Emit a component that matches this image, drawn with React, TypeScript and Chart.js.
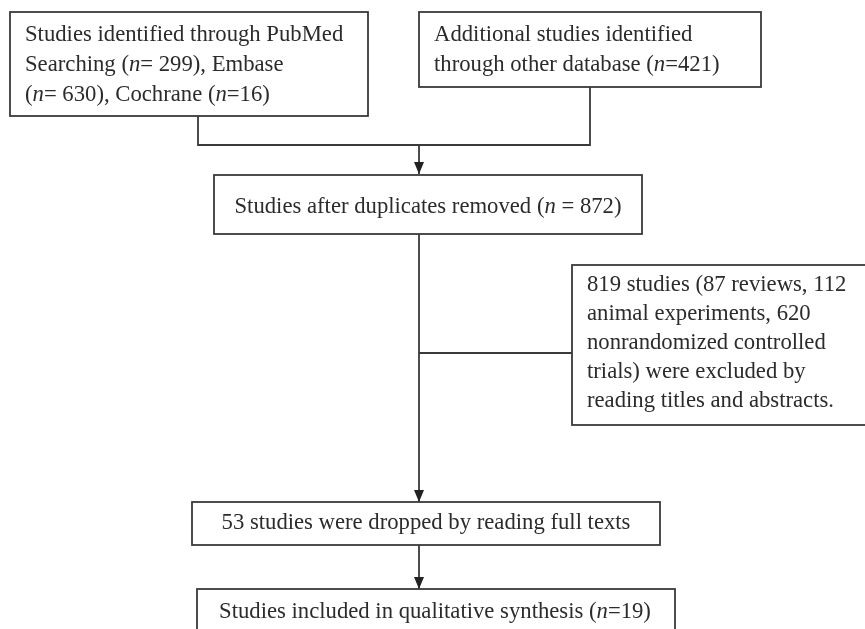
import React, { useEffect, useRef } from "react";
import { Chart, registerables } from "chart.js";

Chart.register(...registerables);

// ---- diagram data (units = diagram coordinates) ----
const boxLeft = [10, 419, 214, 572, 192, 197];
const boxTop = [12, 12, 175, 265, 502, 589];
const boxRight = [368, 761, 642, 872, 660, 675];
const boxBottom = [116, 87, 234, 425, 545, 650];
const boxAlign = ["left", "left", "center", "left", "center", "center"];
const boxTextX = [25, 434, 428, 587, 426, 435];
const boxLineY = [
  [35, 65, 95],
  [35, 65],
  [207],
  [285, 314, 343, 372, 401],
  [523],
  [612],
];
const boxLines = [
  ["Studies identified through PubMed", "Searching (*n*= 299), Embase", "(*n*= 630), Cochrane (*n*=16)"],
  ["Additional studies identified", "through other database (*n*=421)"],
  ["Studies after duplicates removed (*n* = 872)"],
  [
    "819 studies (87 reviews, 112",
    "animal experiments, 620",
    "nonrandomized controlled",
    "trials) were excluded by",
    "reading titles and abstracts.",
  ],
  ["53 studies were dropped by reading full texts"],
  ["Studies included in qualitative synthesis (*n*=19)"],
];

const connectorPoints = [
  [{ x: 198, y: 116 }, { x: 198, y: 145 }, { x: 590, y: 145 }, { x: 590, y: 87 }],
  [{ x: 419, y: 145 }, { x: 419, y: 174 }],
  [{ x: 419, y: 234 }, { x: 419, y: 502 }],
  [{ x: 419, y: 353 }, { x: 572, y: 353 }],
  [{ x: 419, y: 545 }, { x: 419, y: 589 }],
];
const connectorArrow = [false, true, true, false, true];

const FONT_SIZE = 22.7;
const FONT_FAMILY = '"Liberation Serif", "Times New Roman", serif';
const LINE_COLOR = "#3a3a3a";
const TEXT_COLOR = "#2b2b2b";

function parseSegments(s: string) {
  const parts: { text: string; italic: boolean }[] = [];
  const re = /\*([^*]+)\*/g;
  let last = 0;
  let m: RegExpExecArray | null;
  while ((m = re.exec(s)) !== null) {
    if (m.index > last) parts.push({ text: s.slice(last, m.index), italic: false });
    parts.push({ text: m[1], italic: true });
    last = m.index + m[0].length;
  }
  if (last < s.length) parts.push({ text: s.slice(last), italic: false });
  return parts;
}

const flowPlugin = {
  id: "flowPlugin",
  afterDatasetsDraw(chart: any) {
    const ctx = chart.ctx as CanvasRenderingContext2D;
    const xs = chart.scales.x;
    const ys = chart.scales.y;
    ctx.save();
    // arrowheads
    connectorPoints.forEach((pts, i) => {
      if (!connectorArrow[i]) return;
      const p = pts[pts.length - 1];
      const q = pts[pts.length - 2];
      const px = xs.getPixelForValue(p.x);
      const py = ys.getPixelForValue(p.y);
      const qx = xs.getPixelForValue(q.x);
      const qy = ys.getPixelForValue(q.y);
      const ang = Math.atan2(py - qy, px - qx);
      const len = 12;
      const half = 5;
      ctx.fillStyle = "#222";
      ctx.beginPath();
      ctx.moveTo(px, py);
      ctx.lineTo(px - len * Math.cos(ang) + half * Math.sin(ang), py - len * Math.sin(ang) - half * Math.cos(ang));
      ctx.lineTo(px - len * Math.cos(ang) - half * Math.sin(ang), py - len * Math.sin(ang) + half * Math.cos(ang));
      ctx.closePath();
      ctx.fill();
    });
    // boxes
    boxLeft.forEach((_, i) => {
      const x0 = xs.getPixelForValue(boxLeft[i]);
      const x1 = xs.getPixelForValue(boxRight[i]);
      const y0 = ys.getPixelForValue(boxTop[i]);
      const y1 = ys.getPixelForValue(boxBottom[i]);
      ctx.fillStyle = "#ffffff";
      ctx.fillRect(x0, y0, x1 - x0, y1 - y0);
      ctx.strokeStyle = LINE_COLOR;
      ctx.lineWidth = 1.8;
      ctx.strokeRect(x0, y0, x1 - x0, y1 - y0);
      ctx.fillStyle = TEXT_COLOR;
      ctx.textBaseline = "middle";
      ctx.textAlign = "left";
      boxLines[i].forEach((line, j) => {
        const segs = parseSegments(line);
        const widths = segs.map((s) => {
          ctx.font = `${s.italic ? "italic " : ""}${FONT_SIZE}px ${FONT_FAMILY}`;
          return ctx.measureText(s.text).width;
        });
        const total = widths.reduce((a, b) => a + b, 0);
        let x = xs.getPixelForValue(boxTextX[i]);
        if (boxAlign[i] === "center") x -= total / 2;
        const y = ys.getPixelForValue(boxLineY[i][j]);
        segs.forEach((s, k) => {
          ctx.font = `${s.italic ? "italic " : ""}${FONT_SIZE}px ${FONT_FAMILY}`;
          ctx.fillText(s.text, x, y);
          x += widths[k];
        });
      });
    });
    ctx.restore();
  },
};

export default function App() {
  const ref = useRef<HTMLCanvasElement | null>(null);
  useEffect(() => {
    if (!ref.current) return;
    const chart = new Chart(ref.current, {
      type: "scatter",
      data: {
        datasets: connectorPoints.map((pts) => ({
          data: pts,
          showLine: true,
          borderColor: LINE_COLOR,
          borderWidth: 1.8,
          pointRadius: 0,
          fill: false,
          tension: 0,
        })),
      },
      options: {
        animation: false,
        responsive: true,
        maintainAspectRatio: false,
        layout: { padding: 0 },
        plugins: { legend: { display: false }, tooltip: { enabled: false } },
        events: [],
        scales: {
          x: { type: "linear", min: 0, max: 865, display: false },
          y: { type: "linear", min: 0, max: 629, reverse: true, display: false },
        },
      },
      plugins: [flowPlugin],
    });
    return () => chart.destroy();
  }, []);
  return (
    <div style={{ position: "fixed", left: 0, top: 0, width: 865, height: 629, background: "#fff" }}>
      <canvas ref={ref} />
    </div>
  );
}
